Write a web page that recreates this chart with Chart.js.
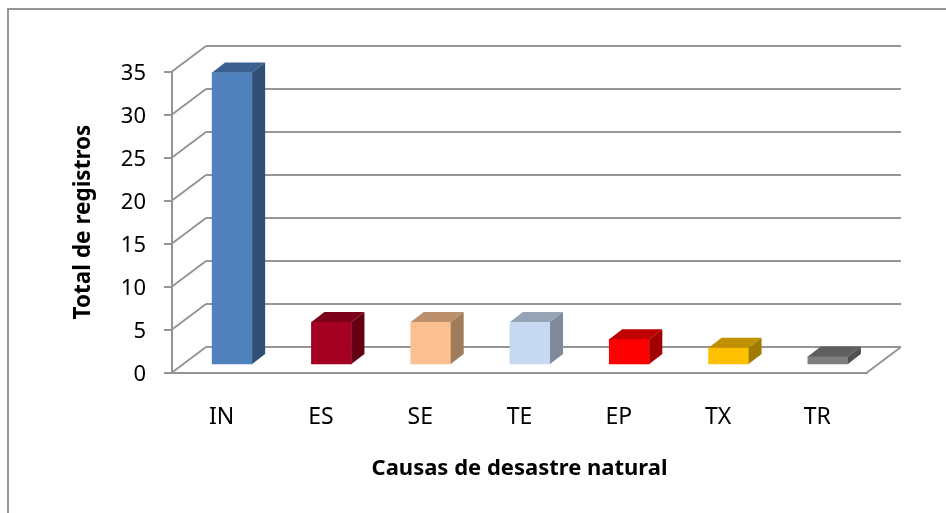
<!DOCTYPE html>
<html lang="es">
<head>
  <meta charset="UTF-8" />
  <title>Causas de desastre natural</title>
  <style>
    html, body { margin: 0; padding: 0; background: #fff; overflow: hidden; }
    #wrap { position: relative; width: 946px; height: 513px; }
    .frame { position: absolute; left: 7px; top: 8px; width: 960px; height: 520px; border: 2px solid #959595; }
  </style>
</head>
<body>
  <div id="wrap">
    <div class="frame"></div>
    <canvas id="chart" width="946" height="513"></canvas>
  </div>

  <script src="https://cdn.jsdelivr.net/npm/chart.js"></script>
  <script>
    const categories = ["IN", "ES", "SE", "TE", "EP", "TX", "TR"];
    const totals = [34, 5, 5, 5, 3, 2, 1];
    const frontColors = ["#4f81bd", "#a50021", "#fac090", "#c6d9f1", "#ff0000", "#ffc000", "#7f7f7f"];
    const topColors = ["#3c6191", "#7c0019", "#bc906c", "#95a3b5", "#c00000", "#c09000", "#5f5f5f"];
    const sideColors = ["#2f4f76", "#640014", "#a07c5c", "#7f8b9a", "#a00000", "#a07b00", "#515151"];
    const yTicks = [0, 5, 10, 15, 20, 25, 30, 35];

    const lineColor = "#959595";
    const depth = { x: 34, y: 25.5 };      // floor depth, front edge to back wall
    const barShift = { x: 10.5, y: 7.5 };  // gap between front edge and bar
    const barDepth = { x: 13, y: 10 };

    function line(ctx, x1, y1, x2, y2) {
      ctx.beginPath();
      ctx.moveTo(x1, y1);
      ctx.lineTo(x2, y2);
      ctx.stroke();
    }

    function face(ctx, pts, color) {
      ctx.fillStyle = color;
      ctx.beginPath();
      pts.forEach((p, i) => i ? ctx.lineTo(p[0], p[1]) : ctx.moveTo(p[0], p[1]));
      ctx.closePath();
      ctx.fill();
    }

    const box3d = {
      id: "box3d",
      afterLayout(chart) {
        // y labels sit a touch lower than the tick marks
        chart.scales.y.getLabelItems().forEach(item => { item.options.translation[1] += 2; });
      },
      beforeDatasetsDraw(chart) {
        const { ctx, chartArea, scales } = chart;
        ctx.save();
        ctx.strokeStyle = lineColor;
        ctx.lineWidth = 2;
        yTicks.forEach(v => {
          const y = scales.y.getPixelForValue(v);
          line(ctx, chartArea.left, y, chartArea.left + depth.x, y - depth.y);
          line(ctx, chartArea.left + depth.x, y - depth.y, chartArea.right + depth.x, y - depth.y);
        });
        const y0 = scales.y.getPixelForValue(0);
        line(ctx, chartArea.right, y0, chartArea.right + depth.x, y0 - depth.y);
        ctx.restore();
      },
      beforeDatasetDraw(chart) {
        chart.ctx.save();
        chart.ctx.translate(barShift.x, -barShift.y);
      },
      afterDatasetDraw(chart, args) {
        const ctx = chart.ctx;
        args.meta.data.forEach((bar, i) => {
          const { x, y, base, width } = bar.getProps(["x", "y", "base", "width"], true);
          const l = x - width / 2, r = x + width / 2;
          const dx = barDepth.x, dy = barDepth.y;
          face(ctx, [[l, y], [r, y], [r + dx, y - dy], [l + dx, y - dy]], topColors[i]);
          face(ctx, [[r, y], [r + dx, y - dy], [r + dx, base - dy], [r, base]], sideColors[i]);
        });
        ctx.restore();
      }
    };

    new Chart(document.getElementById("chart"), {
      type: "bar",
      data: {
        labels: categories,
        datasets: [{ data: totals, backgroundColor: frontColors, barThickness: 40, clip: false }]
      },
      plugins: [box3d],
      options: {
        responsive: false,
        animation: false,
        layout: { padding: { left: 70, right: 79, top: 71.5, bottom: 31 } },
        plugins: { legend: { display: false }, tooltip: { enabled: false } },
        scales: {
          x: {
            afterFit(scale) { scale.height = 109.5; },
            grid: { display: false },
            border: { color: lineColor, width: 2 },
            ticks: { padding: 23, maxRotation: 0, autoSkip: false, color: "#000", font: { family: "'Noto Sans'", size: 23 } },
            title: { display: true, text: "Causas de desastre natural", color: "#000", padding: 0, font: { family: "'Noto Sans'", size: 22, weight: "bold" } }
          },
          y: {
            min: 0,
            max: 35,
            afterFit(scale) { scale.width = 102; },
            grid: { drawOnChartArea: false, tickLength: 8, color: lineColor, lineWidth: 2 },
            border: { color: lineColor, width: 2 },
            ticks: { stepSize: 5, padding: 18, color: "#000", font: { family: "'Noto Sans'", size: 22 } },
            title: { display: true, text: "Total de registros", color: "#000", padding: 0, font: { family: "'Noto Sans'", size: 22.5, weight: "bold" } }
          }
        }
      }
    });
  </script>
</body>
</html>
